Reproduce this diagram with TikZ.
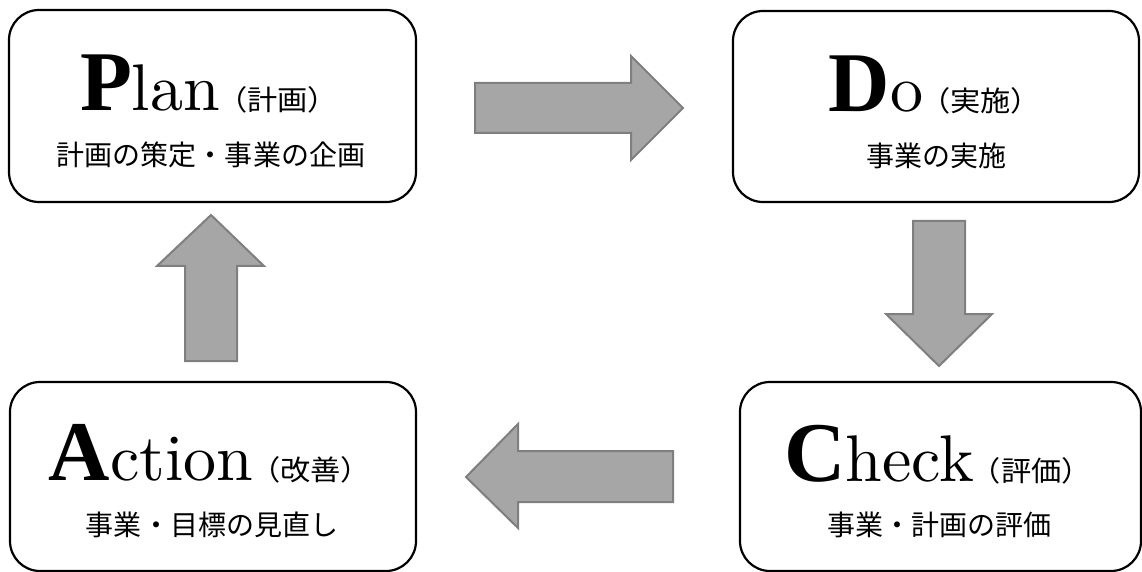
\documentclass[tikz,border=0pt]{standalone}
\usepackage{fontspec}
\newfontfamily\jp{Noto Sans CJK JP}
\newfontfamily\lmten{lmroman10-regular}[Extension=.otf]
\newfontfamily\capfont{Liberation Serif}
\definecolor{arrfill}{HTML}{A6A6A6}
\definecolor{arrline}{HTML}{7F7F7F}
\newcommand{\pdcattl}[3]{%
  {\capfont\bfseries\fontsize{85bp}{85bp}\selectfont #1}%
  {\lmten\fontsize{66bp}{66bp}\selectfont #2}%
  \hspace{-3bp}\scalebox{1.08}[1]{\jp\fontsize{28bp}{28bp}\selectfont （#3）}}
\tikzset{
  pbox/.style={draw=black, line width=2.2bp, rounded corners=30bp, fill=white, inner sep=0pt},
  ttl/.style={inner sep=0pt, anchor=base},
  sub/.style={inner sep=0pt, anchor=base, font=\jp\fontsize{28bp}{28bp}\selectfont},
  blockarrow/.style={fill=arrfill, draw=arrline, line width=2bp, line join=miter}
}
\begin{document}
\begin{tikzpicture}[x=1bp,y=-1bp]
\useasboundingbox (0,0) rectangle (1142,572);
% boxes
\node[pbox, minimum width=407bp, minimum height=192bp] (plan) at (212.5,106) {};
\node[pbox, minimum width=406bp, minimum height=191bp] (do) at (936,106.5) {};
\node[pbox, minimum width=406bp, minimum height=189bp] (act) at (213,476.5) {};
\node[pbox, minimum width=401bp, minimum height=189bp] (chk) at (940.5,476.5) {};
% titles
\node[ttl] (planT) at (209,111) {\pdcattl{P}{lan}{計画}};
\node[ttl] (doT) at (935,112) {\pdcattl{D}{o}{実施}};
\node[ttl] (actT) at (210,480) {\pdcattl{A}{ction}{改善}};
\node[ttl] (chkT) at (938,481) {\pdcattl{C}{heck}{評価}};
% subtitles
\node[sub] (planS) at (211,166) {計画の策定・事業の企画};
\node[sub] (doS) at (936,167) {事業の実施};
\node[sub] (actS) at (212,535) {事業・目標の見直し};
\node[sub] (chkS) at (939,535) {事業・計画の評価};
% block arrows
\draw[blockarrow] (475,83) -- (631,83) -- (631,56) -- (683,108) -- (631,160) -- (631,133) -- (475,133) -- cycle;
\draw[blockarrow] (913,221) -- (965,221) -- (965,314) -- (992,314) -- (939,366) -- (886,314) -- (913,314) -- cycle;
\draw[blockarrow] (673,451) -- (518,451) -- (518,424) -- (466,477) -- (518,528) -- (518,502) -- (673,502) -- cycle;
\draw[blockarrow] (185,361) -- (185,266) -- (157,266) -- (211,215) -- (264,266) -- (237,266) -- (237,361) -- cycle;
\end{tikzpicture}
\end{document}
